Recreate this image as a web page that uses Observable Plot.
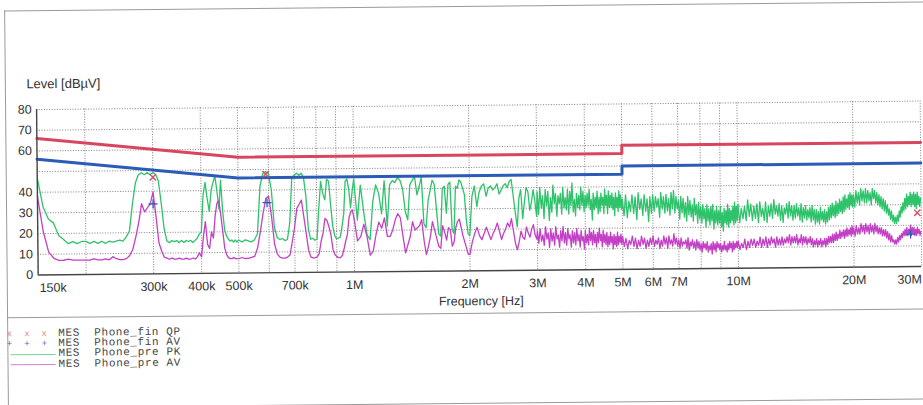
<!DOCTYPE html>
<html><head><meta charset="utf-8">
<script src="https://cdn.jsdelivr.net/npm/d3@7"></script>
<script src="https://cdn.jsdelivr.net/npm/@observablehq/plot@0.6"></script>
<style>
html,body{margin:0;padding:0;background:#fff;overflow:hidden;}
#page{position:relative;width:923px;height:405px;transform:rotate(-0.55deg);transform-origin:461.5px 202.5px;background:#fff;}
#chart{position:absolute;left:0;top:0;}
.hl{position:absolute;left:6px;width:960px;height:0;border-top:1px solid #9a9a9a;}
.vl{position:absolute;left:6px;top:6px;width:0;height:397px;border-left:1px solid #9a9a9a;}
#legendText{position:absolute;left:57px;top:323.9px;margin:0;font-family:'Liberation Mono',monospace;font-size:11px;letter-spacing:0.6px;line-height:10.27px;color:#454545;}
.sym{position:absolute;left:5.5px;margin:0;font-family:'Liberation Mono',monospace;font-size:9px;letter-spacing:0.4px;line-height:10px;}
.lsym{position:absolute;left:9px;width:45px;height:0;}
</style></head>
<body>
<div id="page">
  <div id="chart"></div>
  <div class="hl" style="top:6px"></div>
  <div class="vl"></div>
  <div class="hl" style="top:312.5px"></div>
  <div class="hl" style="top:403px"></div>
  <div id="legend"></div>
</div>
<script>
// ---- sweep frequencies (kHz) ----
const freqKHz = [
150,155,160,165,170,175,180,185,190,195,
200,205,210,215,220,225,230,235,240,245,250,255,260,265,270,275,280,285,290,295,300,305,310,315,320,325,330,335,340,345,350,355,360,365,370,375,380,385,390,395,
400,405,410,415,420,425,430,435,440,445,450,455,460,465,470,475,480,485,490,495,
500,510,520,530,540,550,560,570,580,590,600,610,620,630,640,650,660,670,680,690,
700,710,720,730,740,750,760,770,780,790,800,810,820,830,840,850,860,870,880,890,900,910,920,930,940,950,960,970,980,990,1000,
1020,1040,1060,1080,1100,1120,1140,1160,1180,1200,1220,1240,1260,1280,1300,1320,1340,1360,1380,1400,1420,1440,1460,1480,1500,1520,1540,1560,1580,1600,1620,1640,1660,1680,1700,1720,1740,1760,1780,1800,1820,1840,1860,1880,1900,1920,1940,1960,1980,
2000,2030,2060,2090,2120,2150,2180,2210,2240,2270,2300,2330,2360,2390,2420,2450,2480,2510,2540,2570,2600,2630,2660,2690,2720,2750,2780,2810,2840,2870,2900,2930,2960,2990,
3000,3025,3050,3075,3100,3125,3150,3175,3200,3225,3250,3275,3300,3325,3350,3375,3400,3425,3450,3475,
3500,3525,3550,3575,3600,3625,3650,3675,3700,3725,3750,3775,3800,3825,3850,3875,3900,3925,3950,3975,
4000,4025,4050,4075,4100,4125,4150,4175,4200,4225,4250,4275,4300,4325,4350,4375,4400,4425,4450,4475,
4500,4525,4550,4575,4600,4625,4650,4675,4700,4725,4750,4775,4800,4825,4850,4875,4900,4925,4950,4975,
5000,5050,5100,5150,5200,5250,5300,5350,5400,5450,5500,5550,5600,5650,5700,5750,5800,5850,5900,5950,
6000,6050,6100,6150,6200,6250,6300,6350,6400,6450,6500,6550,6600,6650,6700,6750,6800,6850,6900,6950,
7000,7050,7100,7150,7200,7250,7300,7350,7400,7450,7500,7550,7600,7650,7700,7750,7800,7850,7900,7950,
8000,8050,8100,8150,8200,8250,8300,8350,8400,8450,8500,8550,8600,8650,8700,8750,8800,8850,8900,8950,
9000,9050,9100,9150,9200,9250,9300,9350,9400,9450,9500,9550,9600,9650,9700,9750,9800,9850,9900,9950,
10000,10100,10200,10300,10400,10500,10600,10700,10800,10900,11000,11100,11200,11300,11400,11500,11600,11700,11800,11900,
12000,12100,12200,12300,12400,12500,12600,12700,12800,12900,13000,13100,13200,13300,13400,13500,13600,13700,13800,13900,
14000,14100,14200,14300,14400,14500,14600,14700,14800,14900,15000,15100,15200,15300,15400,15500,15600,15700,15800,15900,
16000,16100,16200,16300,16400,16500,16600,16700,16800,16900,17000,17100,17200,17300,17400,17500,17600,17700,17800,17900,
18000,18100,18200,18300,18400,18500,18600,18700,18800,18900,19000,19100,19200,19300,19400,19500,19600,19700,19800,19900,
20000,20150,20300,20450,20600,20750,20900,21050,21200,21350,21500,21650,21800,21950,22100,22250,22400,22550,22700,22850,
23000,23150,23300,23450,23600,23750,23900,24050,24200,24350,24500,24650,24800,24950,25100,25250,25400,25550,25700,25850,
26000,26150,26300,26450,26600,26750,26900,27050,27200,27350,27500,27650,27800,27950,28100,28250,28400,28550,28700,28850,
29000,29150,29300,29450,29600,29750,29900
];
// ---- Phone_pre PK (green) dBuV ----
const prePK = [
47,33,27,25,19,17,15,16,15,16,
16,15,16,15,16,15,16,15.5,16,16.5,16,18,21,34,44,48,49,48,49,48,49,48,45,34,22,16,15,16,15.5,16,15,16,15,16,15.5,16,15,16,17,19,
20,38,44,36,30,40,44,47,40,31,45,30,21,18,16.5,15.5,16,15,16,15,
16,15,16,15.5,15,16,19,42,48,49,48,40,22,17,16,16.5,15.5,16,24,46,
47,48,47,48,46,37,21,16,16.5,15.5,16,31,44,38,35,45,44,32,22,17.5,16,16.5,17,22,28,44,45,40,31,39,45,
25,42,29,18,15.5,34,42,38,28,44,22,42,44,43,45.5,44,40,29,25,42,44,46,37,41,45.5,23,21,34,39,44,42,30,18,17,40,41,28,42,43,20,18,41,40,44,43,40,37,25,18,
17,36,41,31,38,41,42,36,40,41,39,40,42,37,39,41,42,40,43,44,36,28,21,35,39,25,33,40,38,29,33,39,33,26,
38,27,40,30,36,25,39,31,38,24,35,28,41,32,37,26,36,32,37,27,
40,30,35,29,39,27,38,31,42,28,34,26,37,30,36,29,40,31,38,28,
36,30,37,31,39,29,34,24,37,29,35,30,38,27,35,28,37,31,35,27,
39,31,36,27,38,30,36,30,37,29,35,26,37,30,35,28,38,30,36,29,
34,26,36,25,33,28,36,27,35,24,37,29,34,26,36,28,34,23,35,27,
36,28,35,30,34,25,37,29,35,27,36,28,34,26,37,29,38,27,35,29,
33,24,35,27,34,25,32,23,35,26,33,25,31,23,34,26,31,22,32,24,
30,22,31,24,29,20,31,23,29,21,30,23,31,19,28,22,30,21,28,22,
30,20,27,18,29,22,28,21,31,20,29,22,28,23,30,21,32,22,30,23,
31,22,29,24,30,23,33,25,31,23,30,24,31,22,32,25,29,23,32,22,
30,25,31,24,33,26,30,25,31,23,30,22,29,26,31,24,32,25,30,23,
30,24,31,25,29,23,31,22,29,24,30,23,28,24,29,22,30,23,28,21,
28,22,27,21,29,23,27,22,28,21,27,22,29,23,30,24,31,25,30,24,
32,25,31,26,33,27,32,26,34,27,35,28,33,29,35,28,36,30,35,29,
35,29,37,31,36,30,38,32,37,31,38,31,37,32,36,30,38,33,37,31,
36,30,35,29,34,28,33,27,32,26,30,25,28,23,27,22,25,21,24,21,
25,22,27,24,29,26,31,27,33,28,35,29,34,30,36,29,35,30,36,29,
35,28,36,30,34,29,33
];
// ---- Phone_pre AV (magenta) dBuV ----
const preAV = [
38,21,11,8,7,7,7.5,7,7,7,
7,7,7.5,7,7,7.5,7,8.5,7.5,7,7,7.5,9,12,18,25,34,30,32,34,39.5,28,15,11,8,7.5,7,7.5,7,7,7.5,7,7,7.5,7,7,7.5,7,8,10,
8,18,25,14,12,20,17,28,34,35,28,20,12,9,7.5,7,7,7.5,7,7,
7,7.5,7,7,7.5,8,12,20,29,36,37,27,14,9,7.5,7,7,7.5,8.5,15,
22,31,33,35,27,19,11,7.5,7,7,7.5,9,15,19,26,25,22,18,11,8.5,7.5,7,7,8,11,15,18,26,29,30,26,
15,17,23,17,8,10,18,24,21,26,17,17,20,25,28,26,17,9,13,17,24,20,21,22,25,15,8,12,17,24,20,16,12,11,22,19,15,21,20,12,14,21,24,25,21,17,14,11,8,
8,14,18,21,17,15,18,21,18,15,18,20,23,19,15,18,20,23,21,25,19,13,10,14,19,16,15,21,18,16,20,22,17,15,
19,13,20,14,17,12,21,15,18,11,20,14,18,12,21,15,17,11,19,14,
21,13,18,12,20,15,17,11,19,13,18,12,20,14,17,11,19,14,16,10,
19,13,17,12,20,14,18,12,19,13,17,11,18,13,20,14,17,11,19,13,
17,12,18,11,16,12,18,13,16,10,17,12,16,11,18,12,16,13,17,12,
16,11,15,10,14,12,16,11,15,10,14,11,16,12,15,10,14,11,15,12,
16,11,14,12,15,10,14,11,16,12,15,10,16,12,14,11,17,12,15,11,
14,10,15,11,13,12,14,10,15,9,13,11,14,10,13,9,14,10,13,9,
12,8,13,10,12,9,13,8,11,9,12,7,13,9,12,8,13,10,12,9,
12,8,11,9,13,9,11,8,12,9,13,10,12,8,13,9,12,10,13,10,
13,9,12,10,14,9,13,10,14,11,14,10,13,11,15,10,14,11,15,10,
14,11,15,12,14,10,15,11,14,11,15,11,14,12,15,12,16,11,15,12,
15,12,16,11,14,12,16,11,15,12,15,11,14,12,15,11,14,10,13,11,
14,10,13,11,14,10,13,11,14,10,14,11,15,12,15,12,16,12,16,13,
17,13,16,14,18,14,17,15,18,14,18,15,19,15,18,16,19,15,20,16,
19,15,20,16,19,16,21,17,20,16,21,17,20,16,21,17,20,16,21,17,
20,16,19,16,19,15,18,15,18,14,17,13,16,12,15,12,13,11,13,11,
14,12,15,13,16,14,17,15,18,15,19,15,18,16,20,15,19,16,19,15,
18,15,19,16,18,15,17
];
// ---- limits ----
const qpLimitFreq = [150e3, 500e3, 5e6, 5e6, 30e6];
const qpLimitLevel = [66, 56, 56, 60, 60];
const avLimitFreq = [150e3, 500e3, 5e6, 5e6, 30e6];
const avLimitLevel = [56, 46, 46, 50, 50];
// ---- final measurement marks ----
const finQPFreq = [300e3, 590e3, 29.3e6];
const finQPLevel = [46.7, 47.7, 26];
const finAVFreq = [300e3, 594e3, 28.1e6];
const finAVLevel = [33.8, 33.9, 15.7];
// ---- axes ----
const xTickFreq = [150e3,300e3,400e3,500e3,700e3,1e6,2e6,3e6,4e6,5e6,6e6,7e6,10e6,20e6,30e6];
const xTickLabel = ["150k","300k","400k","500k","700k","1M","2M","3M","4M","5M","6M","7M","10M","20M","30M"];
const xGridFreq = [200e3,300e3,400e3,500e3,600e3,700e3,800e3,900e3,1e6,2e6,3e6,4e6,5e6,6e6,7e6,8e6,9e6,10e6,20e6,30e6];
const yTicks = [0,10,20,30,40,60,70,80];
const yGrid = [10,20,30,40,50,60,70,80];
// ---- legend ----
const legendPrefix = "MES";
const legendNames = ["Phone_fin QP","Phone_fin AV","Phone_pre PK","Phone_pre AV"];
const legendKinds = ["times","plus","line","line"];

const C = {qp:"#d8455f", av:"#2a5bb6", pk:"#2ec26a", pav:"#c33fc6"};
const legendColors = ["#dc8c8c","#4a68c8","#74d3a0","#d47fd4"];

if (freqKHz.length !== prePK.length || freqKHz.length !== preAV.length)
  console.error("length mismatch", freqKHz.length, prePK.length, preAV.length);

const sweep = freqKHz.map((f,i)=>({f:f*1000, pk:prePK[i], av:preAV[i]}));
const qpLim = qpLimitFreq.map((f,i)=>({f, v:qpLimitLevel[i]}));
const avLim = avLimitFreq.map((f,i)=>({f, v:avLimitLevel[i]}));
const qpMarks = finQPFreq.map((f,i)=>({f, v:finQPLevel[i]}));
const avMarks = finAVFreq.map((f,i)=>({f, v:finAVLevel[i]}));
const ticks = xTickFreq.map((f,i)=>({f, label:xTickLabel[i]}));

const grid = {stroke:"#5a5a5a", strokeOpacity:0.85, strokeWidth:0.9, strokeDasharray:"1,1.6"};
const tickText = {x:"f", text:"label", frameAnchor:"bottom", dy:13, lineAnchor:"middle", fill:"#333"};

const chart = Plot.plot({
  width: 923, height: 300,
  marginLeft: 37, marginRight: 2.4, marginTop: 105, marginBottom: 29.6,
  style: {fontFamily:"'Liberation Sans', Arial, sans-serif", fontSize:"12.5px", color:"#333", background:"none", overflow:"visible"},
  x: {type:"log", domain:[150e3, 30e6], axis:null},
  y: {domain:[0, 80]},
  marks: [
    Plot.gridY(yGrid, grid),
    Plot.gridX(xGridFreq, grid),
    Plot.line(sweep, {x:"f", y:"pk", stroke:C.pk, strokeWidth:1.3}),
    Plot.line(sweep, {x:"f", y:"av", stroke:C.pav, strokeWidth:1.3}),
    Plot.line(qpLim, {x:"f", y:"v", stroke:C.qp, strokeWidth:3}),
    Plot.line(avLim, {x:"f", y:"v", stroke:C.av, strokeWidth:3}),
    Plot.dot(qpMarks, {x:"f", y:"v", symbol:"times", r:3, stroke:C.qp, strokeWidth:1.3}),
    Plot.dot(avMarks, {x:"f", y:"v", symbol:"plus", r:3, stroke:C.av, strokeWidth:1.3}),
    Plot.ruleY([0], {stroke:"#444", strokeWidth:1.4}),
    Plot.ruleX([150e3], {stroke:"#444", strokeWidth:1.4}),
    Plot.axisY({ticks:yTicks, tickSize:0, tickPadding:5, label:null, fill:"#333"}),
    Plot.text(ticks.slice(0,1), {...tickText, textAnchor:"start", dx:1.3}),
    Plot.text(ticks.slice(1,-1), tickText),
    Plot.text(ticks.slice(-1), {...tickText, textAnchor:"end"}),
    Plot.text(["Frequency [Hz]"], {text:d=>d, frameAnchor:"bottom", dx:1, dy:30.5, lineAnchor:"middle", fill:"#333"}),
    Plot.text(["Level [dB\u00B5V]"], {text:d=>d, frameAnchor:"top-left", textAnchor:"start", lineAnchor:"middle", dx:-10, dy:-25.5, fontSize:13, fill:"#333"})
  ]
});
document.getElementById("chart").append(chart);

// legend: one text block for the entries, small symbol blocks / line swatches
const lg = document.getElementById("legend");
const rowTop = 323.9, rowStep = 10.27;
const pre = document.createElement("pre");
pre.id = "legendText";
pre.textContent = legendNames.map(n => legendPrefix + "  " + n).join("\n");
lg.append(pre);
legendKinds.forEach((k,i)=>{
  if (k === "line") {
    const ln = document.createElement("div");
    ln.className = "lsym";
    ln.style.top = (rowTop + i*rowStep + 5.6) + "px";
    ln.style.borderTop = "1px solid " + legendColors[i];
    lg.append(ln);
  } else {
    const s = document.createElement("pre");
    s.className = "sym";
    s.textContent = k === "times" ? "x  x  x" : "+  +  +";
    s.style.top = (rowTop + i*rowStep + 0.6) + "px";
    s.style.color = legendColors[i];
    lg.append(s);
  }
});
</script>
</body></html>
